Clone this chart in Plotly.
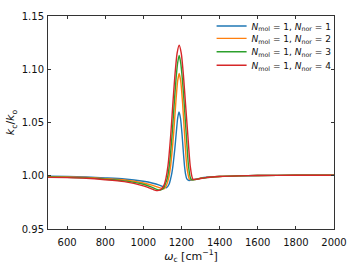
import plotly.graph_objects as go

# --- data ---
x_n1 = [500, 600, 700, 800, 900, 1000, 1050, 1080, 1100, 1122, 1135, 1143, 1150, 1155, 1165, 1172, 1180, 1187,
        1195, 1203, 1210, 1216, 1222, 1228, 1240, 1255, 1300, 1350, 1400, 1500, 1600, 1800, 2000]
y_n1 = [0.9995, 0.9993, 0.9988, 0.9980, 0.9970, 0.9948, 0.9930, 0.9915, 0.9900, 0.9888, 0.9920, 0.9970, 1.0030, 1.0090,
        1.0250, 1.0390, 1.0540, 1.0600, 1.0540, 1.0390, 1.0220, 1.0090, 1.0010, 0.9970, 0.9955, 0.9960, 0.9978,
        0.9988, 0.9994, 0.9999, 1.0002, 1.0004, 1.0004]

x_n2 = [500, 600, 700, 800, 900, 1000, 1050, 1080, 1100, 1110, 1120, 1132, 1143, 1152, 1160, 1170, 1180, 1188,
        1196, 1206, 1215, 1222, 1228, 1235, 1241, 1255, 1300, 1350, 1400, 1500, 1600, 1800, 2000]
y_n2 = [0.9990, 0.9988, 0.9983, 0.9973, 0.9960, 0.9932, 0.9910, 0.9890, 0.9880, 0.9878, 0.9905, 0.9970, 1.0090,
        1.0250, 1.0420, 1.0680, 1.0890, 1.0960, 1.0890, 1.0680, 1.0420, 1.0220, 1.0090, 1.0010, 0.9970, 0.9962,
        0.9976, 0.9987, 0.9993, 0.9999, 1.0002, 1.0004, 1.0004]

x_n3 = [500, 600, 700, 800, 900, 1000, 1040, 1070, 1090, 1105, 1115, 1125, 1136, 1151, 1162, 1172, 1180, 1188,
        1196, 1205, 1215, 1225, 1237, 1249, 1262, 1280, 1300, 1350, 1400, 1500, 1600, 1800, 2000]
y_n3 = [0.9988, 0.9985, 0.9980, 0.9968, 0.9952, 0.9920, 0.9895, 0.9872, 0.9866, 0.9880, 0.9920, 0.9970, 1.0090,
        1.0390, 1.0680, 1.0920, 1.1060, 1.1130, 1.1060, 1.0900, 1.0660, 1.0390, 1.0090, 0.9970, 0.9962, 0.9966,
        0.9975, 0.9986, 0.9993, 0.9999, 1.0002, 1.0004, 1.0004]

x_n4 = [500, 600, 700, 800, 900, 1000, 1040, 1060, 1075, 1095, 1108, 1118, 1129, 1144, 1155, 1166, 1177, 1188,
        1199, 1210, 1221, 1233, 1246, 1259, 1272, 1290, 1320, 1350, 1400, 1500, 1600, 1800, 2000]
y_n4 = [0.9985, 0.9982, 0.9976, 0.9963, 0.9945, 0.9905, 0.9880, 0.9865, 0.9860, 0.9875, 0.9910, 0.9970, 1.0090,
        1.0390, 1.0680, 1.0950, 1.1150, 1.1225, 1.1150, 1.0950, 1.0680, 1.0390, 1.0090, 0.9970, 0.9965, 0.9970,
        0.9980, 0.9986, 0.9993, 0.9999, 1.0002, 1.0004, 1.0004]

n_nor = ["1", "2", "3", "4"]
colors = ["#1f77b4", "#ff7f0e", "#2ca02c", "#d62728"]
xs_all = [x_n1, x_n2, x_n3, x_n4]
ys_all = [y_n1, y_n2, y_n3, y_n4]

x_ticks = [600, 800, 1000, 1200, 1400, 1600, 1800, 2000]
y_ticks = [0.95, 1.00, 1.05, 1.10, 1.15]

# legend row positions (paper coords)
legend_rows = [0.953, 0.895, 0.832, 0.769]
legend_names = ["legend", "legend2", "legend3", "legend4"]

fig = go.Figure()
for xs, ys, n, col, lg in zip(xs_all, ys_all, n_nor, colors, legend_names):
    fig.add_trace(go.Scatter(
        x=xs, y=ys, mode="lines",
        line=dict(color=col, width=1.4, shape="spline", smoothing=0.6),
        name=f"<i>N</i><sub>mol</sub> = 1, <i>N</i><sub>nor</sub> = {n}",
        legend=lg,
    ))

axis_common = dict(
    showline=True, linecolor="#333", linewidth=1, mirror="ticks",
    ticks="inside", ticklen=3, tickcolor="#333", showgrid=False, zeroline=False,
    tickfont=dict(family="DejaVu Sans", size=10, color="#111"),
    automargin=True,
)

legend_common = dict(xanchor="left", yanchor="middle", bgcolor="rgba(0,0,0,0)",
                     font=dict(size=9), borderwidth=0, itemwidth=30)

layout_legends = {}
for lg, yrow in zip(legend_names, legend_rows):
    layout_legends[lg] = dict(x=0.572, y=yrow, **legend_common)

fig.update_layout(
    width=357, height=269,
    margin=dict(l=47, r=19, t=10, b=36),
    paper_bgcolor="white", plot_bgcolor="white",
    font=dict(family="DejaVu Sans", color="#111"),
    xaxis=dict(range=[500, 2000], tickvals=x_ticks, ticklabelstandoff=4,
               title=dict(text="<i>ω</i><sub>c</sub> [cm<sup>−1</sup>]", font=dict(size=11), standoff=3),
               **axis_common),
    yaxis=dict(range=[0.95, 1.15], tickvals=y_ticks, tickformat=".2f", ticklabelstandoff=1,
               title=dict(text="<i>k</i><sub>c</sub>/<i>k</i><sub>o</sub>", font=dict(size=11), standoff=4),
               **axis_common),
    showlegend=True,
    **layout_legends,
)

fig.write_html("out.html", config={"displayModeBar": False},
               post_script="document.body.style.margin='0';")
